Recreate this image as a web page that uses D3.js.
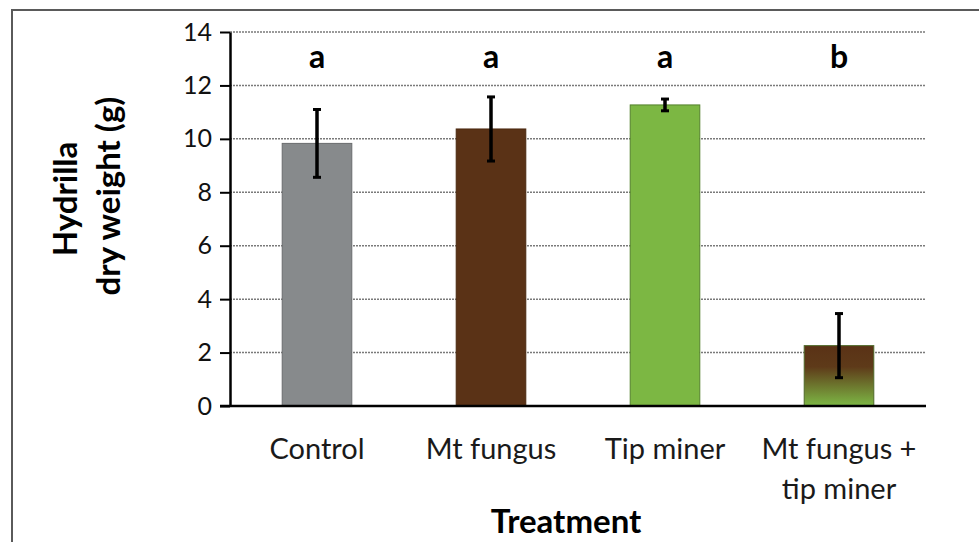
<!DOCTYPE html>
<html>
<head>
<meta charset="utf-8">
<script src="https://cdn.jsdelivr.net/npm/d3@7"></script>
<style>
  body { margin: 0; background: #fff; }
  text { font-family: Lato, "Open Sans", sans-serif; }
</style>
</head>
<body>
<svg id="chart" width="979" height="542"></svg>
<script>
var treatments = ['Control', 'Mt fungus', 'Tip miner', 'Mt fungus +\ntip miner'];
var weights = [9.83, 10.37, 11.27, 2.26];
var errors = [1.27, 1.2, 0.22, 1.2];
var letters = ['a', 'a', 'a', 'b'];
var yTicks = [0, 2, 4, 6, 8, 10, 12, 14];

var svg = d3.select('#chart');

var plotLeft = 230, plotRight = 926, plotTop = 32, plotBottom = 406;

// outer frame
svg.append('path')
    .attr('d', 'M12,542 L12,10 L979,10')
    .attr('fill', 'none')
    .attr('stroke', '#5a5a5a')
    .attr('stroke-width', 2);

var x = d3.scaleBand()
    .domain(treatments)
    .range([plotLeft, plotRight])
    .paddingInner(0.6)
    .paddingOuter(0.3);

var y = d3.scaleLinear()
    .domain([0, 14])
    .range([plotBottom, plotTop]);

var defs = svg.append('defs');
var grad = defs.append('linearGradient')
    .attr('id', 'mix')
    .attr('x1', 0).attr('y1', 0).attr('x2', 0).attr('y2', 1);
grad.append('stop').attr('offset', '0%').attr('stop-color', '#5a3216');
grad.append('stop').attr('offset', '35%').attr('stop-color', '#5e3a19');
grad.append('stop').attr('offset', '100%').attr('stop-color', '#7db845');

var fills = ['#878a8c', '#5a3216', '#7cb743', 'url(#mix)'];
var strokes = ['#6a6c6e', '#4a2810', '#55812d', '#4f6a2a'];

// grid
svg.append('g')
    .selectAll('line')
    .data(yTicks.filter(d => d > 0))
    .enter()
    .append('line')
    .attr('x1', plotLeft)
    .attr('x2', plotRight)
    .attr('y1', d => y(d))
    .attr('y2', d => y(d))
    .attr('stroke', '#7a7a7a')
    .attr('stroke-width', 1.5)
    .attr('stroke-dasharray', '2,1');

// bars
svg.append('g')
    .selectAll('rect')
    .data(weights)
    .enter()
    .append('rect')
    .attr('x', (d, i) => x(treatments[i]))
    .attr('y', d => y(d))
    .attr('width', x.bandwidth())
    .attr('height', d => y(0) - y(d))
    .attr('fill', (d, i) => fills[i])
    .attr('stroke', (d, i) => strokes[i])
    .attr('stroke-width', 1);

// error bars
var eb = svg.append('g')
    .attr('stroke', '#000')
    .attr('stroke-width', 3.5);
weights.forEach(function(d, i) {
    var cx = x(treatments[i]) + x.bandwidth() / 2;
    eb.append('line')
        .attr('x1', cx).attr('x2', cx)
        .attr('y1', y(d + errors[i])).attr('y2', y(d - errors[i]));
    [d + errors[i], d - errors[i]].forEach(function(v) {
        eb.append('line')
            .attr('x1', cx - 4).attr('x2', cx + 4)
            .attr('y1', y(v)).attr('y2', y(v))
            .attr('stroke-width', 3);
    });
});

// y axis
var yAxis = d3.axisLeft(y)
    .tickValues(yTicks)
    .tickSize(10)
    .tickPadding(8)
    .tickSizeOuter(0);

var gy = svg.append('g')
    .attr('transform', 'translate(' + plotLeft + ',0)')
    .call(yAxis);
gy.select('.domain').attr('stroke', '#000').attr('stroke-width', 2.5);
gy.selectAll('.tick line').attr('stroke', '#000').attr('stroke-width', 2);
gy.selectAll('.tick text')
    .attr('font-size', 25)
    .attr('fill', '#111')
    .style('font-family', 'Lato, sans-serif');

// x axis line
svg.append('line')
    .attr('x1', plotLeft - 10)
    .attr('x2', plotRight)
    .attr('y1', plotBottom)
    .attr('y2', plotBottom)
    .attr('stroke', '#000')
    .attr('stroke-width', 2.5);

// category labels
svg.append('g')
    .selectAll('text')
    .data(treatments)
    .enter()
    .append('text')
    .attr('x', d => x(d) + x.bandwidth() / 2)
    .attr('y', 459)
    .attr('text-anchor', 'middle')
    .attr('font-size', 29)
    .attr('fill', '#1a1a1a')
    .each(function(d) {
        var lines = d.split('\n');
        var t = d3.select(this);
        lines.forEach(function(l, k) {
            t.append('tspan')
                .attr('x', x(d) + x.bandwidth() / 2)
                .attr('dy', k === 0 ? 0 : 40)
                .text(l);
        });
    });

// significance letters
svg.append('g')
    .selectAll('text')
    .data(letters)
    .enter()
    .append('text')
    .attr('x', (d, i) => x(treatments[i]) + x.bandwidth() / 2)
    .attr('y', 68)
    .attr('text-anchor', 'middle')
    .attr('font-size', 32)
    .attr('font-weight', 'bold')
    .text(d => d);

// axis titles
svg.append('text')
    .attr('x', 566)
    .attr('y', 533)
    .attr('text-anchor', 'middle')
    .attr('font-size', 33)
    .attr('font-weight', 'bold')
    .text('Treatment');

svg.append('text')
    .attr('transform', 'translate(77,199) rotate(-90)')
    .attr('text-anchor', 'middle')
    .attr('font-size', 33)
    .attr('font-weight', 'bold')
    .text('Hydrilla');

svg.append('text')
    .attr('transform', 'translate(120,196) rotate(-90)')
    .attr('text-anchor', 'middle')
    .attr('font-size', 33)
    .attr('font-weight', 'bold')
    .text('dry weight (g)');
</script>
</body>
</html>
